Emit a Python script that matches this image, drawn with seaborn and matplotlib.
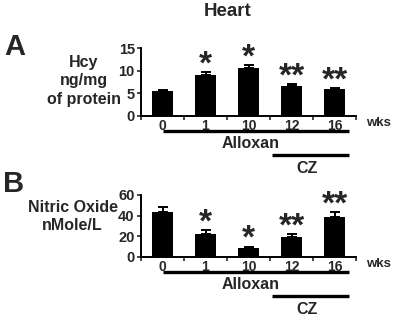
import numpy as np
import matplotlib.pyplot as plt
import seaborn as sns

# Data
weeks = ["0", "1", "10", "12", "16"]
hcy_mean = [5.5, 9.1, 10.6, 6.7, 5.9]
hcy_err = [0.3, 0.6, 0.6, 0.3, 0.3]
no_mean = [44, 22, 9, 19, 39]
no_err = [4, 4, 1, 3, 4.5]
stars = ["", "*", "*", "**", "**"]

sns.set_style("ticks")
plt.rcParams["font.family"] = ["Liberation Sans", "DejaVu Sans"]
plt.rcParams["font.weight"] = "bold"

W, H = 394, 317
fig = plt.figure(figsize=(W / 100, H / 100), dpi=100)


def fx(px):
    return px / W


def fy(py):
    return 1 - py / H


# Draws one bar panel with upper error bars, stars and the treatment lines
def draw_panel(ax, means, errs, yticks, ax_h_px):
    sns.barplot(x=weeks, y=means, color="black", width=0.47, saturation=1,
                errorbar=None, ax=ax, edgecolor="none")
    ax.errorbar(range(len(means)), means, yerr=[np.zeros(len(errs)), errs],
                fmt="none", ecolor="black", elinewidth=1.4, capsize=3.5, capthick=1.4)
    ax.set_xlim(-0.5, 4.5)
    ax.set_ylim(0, yticks[-1])
    ax.set_yticks(yticks)
    ax.set_xticks(range(len(weeks)))
    ax.set_xticks(np.arange(-0.5, 5, 1), minor=True)
    ax.tick_params(axis="x", which="major", length=0, pad=2, labelsize=10)
    ax.tick_params(axis="x", which="minor", length=3, width=1.2, direction="out")
    ax.tick_params(axis="y", length=3, width=1.2, direction="out", pad=1.5, labelsize=10.5)
    for lab in ax.get_xticklabels() + ax.get_yticklabels():
        lab.set_fontweight("bold")
    ax.set_xlabel("")
    ax.set_ylabel("")
    sns.despine(ax=ax)
    for s in ["left", "bottom"]:
        ax.spines[s].set_linewidth(1.4)
        ax.spines[s].set_color("black")

    for i, (m, e, s) in enumerate(zip(means, errs, stars)):
        if s:
            ax.annotate(s, xy=(i, m + e), xytext=(0, -1), textcoords="offset points",
                        ha="center", va="baseline", fontsize=24, fontweight="bold")

    # treatment bars below the axis
    tr = ax.get_xaxis_transform()
    def yb(px):
        return -px / ax_h_px
    ax.plot([0, 4.33], [yb(15), yb(15)], transform=tr, clip_on=False, color="black", lw=2.4,
            solid_capstyle="butt")
    ax.plot([2.55, 4.33], [yb(39), yb(39)], transform=tr, clip_on=False, color="black", lw=2.4,
            solid_capstyle="butt")
    ax.text(2.05, yb(27.5), "Alloxan", transform=tr, ha="center", va="center",
            fontsize=11.5, fontweight="bold")
    ax.text(3.37, yb(52.5), "CZ", transform=tr, ha="center", va="center",
            fontsize=11.5, fontweight="bold")


ax_a = fig.add_axes([fx(141), fy(116), fx(215), 68 / H])
draw_panel(ax_a, hcy_mean, hcy_err, [0, 5, 10, 15], 68)

ax_b = fig.add_axes([fx(141), fy(257), fx(215), 62 / H])
draw_panel(ax_b, no_mean, no_err, [0, 20, 40, 60], 62)

fig.text(fx(228), fy(11), "Heart", ha="center", va="center", fontsize=13.5, fontweight="bold")
fig.text(fx(15), fy(47), "A", ha="center", va="center", fontsize=21, fontweight="bold")
fig.text(fx(14), fy(184), "B", ha="center", va="center", fontsize=21, fontweight="bold")

for txt, y in [("Hcy", 62), ("ng/mg", 80), ("of protein", 99)]:
    fig.text(fx(84), fy(y), txt, ha="center", va="center", fontsize=11.5, fontweight="bold")
for txt, y in [("Nitric Oxide", 207.5), ("nMole/L", 225)]:
    fig.text(fx(72.5), fy(y), txt, ha="center", va="center", fontsize=11.5, fontweight="bold")

fig.text(fx(378), fy(123), "wks", ha="center", va="center", fontsize=9.5, fontweight="bold")
fig.text(fx(378), fy(264), "wks", ha="center", va="center", fontsize=9.5, fontweight="bold")

fig.savefig("out.png", dpi=100)
